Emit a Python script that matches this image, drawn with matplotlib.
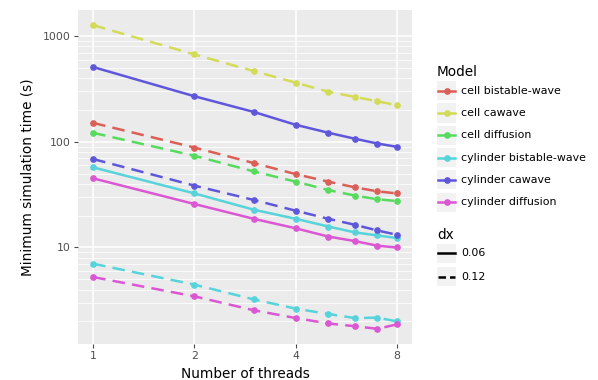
import colorsys
import numpy as np
import matplotlib
matplotlib.use("Agg")
import matplotlib.pyplot as plt
from matplotlib.ticker import LogLocator, NullFormatter, FixedLocator
from matplotlib.lines import Line2D
from matplotlib.patches import Rectangle

threads = [1, 2, 3, 4, 5, 6, 7, 8]
models = ["cell bistable-wave", "cell cawave", "cell diffusion",
          "cylinder bistable-wave", "cylinder cawave", "cylinder diffusion"]

# minimum simulation time (s), dx = 0.06
cyl_bistable_006 = [57.3, 32.5, 22.8, 18.7, 15.8, 13.9, 13.0, 12.3]
cyl_cawave_006 = [510, 270, 192, 145, 122, 107, 96.4, 89.7]
cyl_diffusion_006 = [45.1, 25.8, 18.7, 15.2, 12.7, 11.5, 10.4, 10.0]

# dx = 0.12
cell_bistable_012 = [151, 88.3, 63, 49.5, 42, 37.1, 34, 32.5]
cell_cawave_012 = [1270, 671, 468, 363, 298, 266, 242, 222]
cell_diffusion_012 = [121.6, 73.8, 52.5, 42, 35, 31, 28.6, 27.5]
cyl_bistable_012 = [7.02, 4.45, 3.23, 2.64, 2.35, 2.15, 2.17, 2.0]
cyl_cawave_012 = [68.7, 38.5, 28.2, 22.3, 18.7, 16.4, 14.5, 13.2]
cyl_diffusion_012 = [5.25, 3.45, 2.55, 2.15, 1.91, 1.80, 1.70, 1.87]

series = [
    ("cell bistable-wave", "0.12", cell_bistable_012),
    ("cell cawave", "0.12", cell_cawave_012),
    ("cell diffusion", "0.12", cell_diffusion_012),
    ("cylinder bistable-wave", "0.06", cyl_bistable_006),
    ("cylinder bistable-wave", "0.12", cyl_bistable_012),
    ("cylinder cawave", "0.06", cyl_cawave_006),
    ("cylinder cawave", "0.12", cyl_cawave_012),
    ("cylinder diffusion", "0.06", cyl_diffusion_006),
    ("cylinder diffusion", "0.12", cyl_diffusion_012),
]

# plotnine style hue palette
colors = {}
for i, m in enumerate(models):
    h = (0.01 + i / len(models)) % 1
    colors[m] = colorsys.hls_to_rgb(h, 0.6, 0.65)

LW = 1.8
DASH = (5.0, 2.9)
TITLE_FS = 9.8
TEXT_FS = 7.9

fig = plt.figure(figsize=(5.98, 3.80), dpi=100)
ax = fig.add_axes([78 / 598, 1 - 344 / 380, 334 / 598, 334 / 380])
ax.set_facecolor("#EBEBEB")
for s in ax.spines.values():
    s.set_visible(False)

for m, dx, vals in series:
    ls = "-" if dx == "0.06" else (0, DASH)
    ax.plot(threads, vals, color=colors[m], lw=LW, linestyle=ls,
            marker="o", markersize=3.8, zorder=3)

ax.set_xscale("log", base=2)
ax.set_yscale("log")
ax.margins(x=0.05, y=0.05)
ax.xaxis.set_major_locator(FixedLocator([1, 2, 4, 8]))
ax.set_xticklabels(["1", "2", "4", "8"])
ax.xaxis.set_minor_locator(FixedLocator([]))
ax.yaxis.set_major_locator(FixedLocator([10, 100, 1000]))
ax.set_yticklabels(["10", "100", "1000"])
ax.yaxis.set_minor_locator(LogLocator(base=10, subs=np.arange(2, 10)))
ax.yaxis.set_minor_formatter(NullFormatter())

ax.grid(True, which="major", color="white", lw=1.1, zorder=0)
ax.grid(True, which="minor", axis="y", color="white", lw=0.55, zorder=0)
ax.set_axisbelow(True)
ax.tick_params(which="major", length=3, width=0.8, color="#4d4d4d",
               labelcolor="#4d4d4d", labelsize=7.8, pad=2)
ax.tick_params(which="minor", length=0)

ax.set_xlabel("Number of threads", fontsize=TITLE_FS, labelpad=4)
ax.set_ylabel("Minimum simulation time (s)", fontsize=TITLE_FS, labelpad=6)

# legend drawn by hand, ggplot style
def px(x, y):
    return x / 598, 1 - y / 380

fig.text(*px(437, 72), "Model", fontsize=TITLE_FS, va="center", ha="left")
row0, step = 90.7, 22.3
for i, m in enumerate(models):
    yc = row0 + i * step
    fig.add_artist(Rectangle(px(437, yc + 9.5), 19 / 598, 19 / 380,
                             transform=fig.transFigure, facecolor="#F2F2F2",
                             edgecolor="none"))
    fig.add_artist(Line2D([438 / 598, 455 / 598], [px(0, yc)[1]] * 2,
                          transform=fig.transFigure, color=colors[m], lw=LW))
    fig.add_artist(Line2D([446.5 / 598], [px(0, yc)[1]], marker="o",
                          markersize=3.8, transform=fig.transFigure,
                          color=colors[m]))
    fig.text(*px(461, yc), m, fontsize=TEXT_FS, va="center", ha="left")

fig.text(*px(437, 235), "dx", fontsize=TITLE_FS, va="center", ha="left")
for j, (lab, ls) in enumerate([("0.06", "-"), ("0.12", (0, (3.0, 1.6)))]):
    yc = 253.3 + j * 23.4
    fig.add_artist(Rectangle(px(437, yc + 9.5), 19 / 598, 19 / 380,
                             transform=fig.transFigure, facecolor="#F2F2F2",
                             edgecolor="none"))
    fig.add_artist(Line2D([438 / 598, 455 / 598], [px(0, yc)[1]] * 2,
                          transform=fig.transFigure, color="black", lw=LW,
                          linestyle=ls))
    fig.text(*px(461, yc), lab, fontsize=TEXT_FS, va="center", ha="left")

fig.savefig("out.png", dpi=100, facecolor="white")
